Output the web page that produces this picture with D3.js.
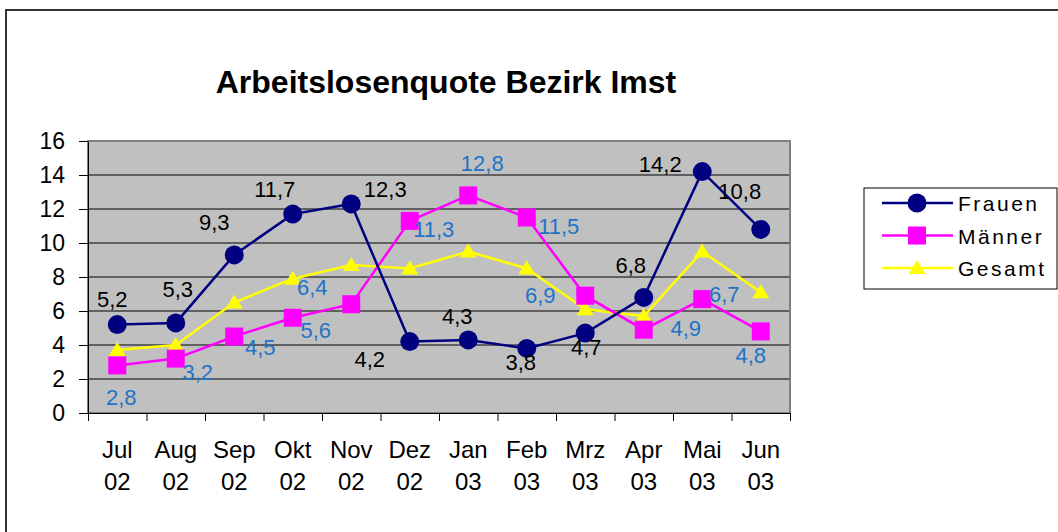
<!DOCTYPE html>
<html>
<head>
<meta charset="utf-8">
<script src="https://cdn.jsdelivr.net/npm/d3@7"></script>
<style>
    body { margin: 0; background: #fff; }
    svg { display: block; }
</style>
</head>
<body>
<div id="chart"></div>
<script>
var months = ['Jul', 'Aug', 'Sep', 'Okt', 'Nov', 'Dez', 'Jan', 'Feb', 'Mrz', 'Apr', 'Mai', 'Jun'];
var years = ['02', '02', '02', '02', '02', '02', '03', '03', '03', '03', '03', '03'];
var frauen = [5.2, 5.3, 9.3, 11.7, 12.3, 4.2, 4.3, 3.8, 4.7, 6.8, 14.2, 10.8];
var maenner = [2.8, 3.2, 4.5, 5.6, 6.4, 11.3, 12.8, 11.5, 6.9, 4.9, 6.7, 4.8];
var gesamt = [3.7, 4.0, 6.5, 7.9, 8.7, 8.5, 9.5, 8.5, 6.1, 5.7, 9.5, 7.1];
var yTicks = [0, 2, 4, 6, 8, 10, 12, 14, 16];

// hand-placed label offsets (dx, dy from the point), like the original
var frauenLabelOffsets = [[-5, -18], [2, -26], [-20, -25], [-18, -17], [34, -7], [-40, 25],
    [-11, -16], [-6, 22], [1, 22], [-13, -24], [-42, 0], [-21, -30]];
var maennerLabelOffsets = [[4, 40], [22, 21], [26, 18], [23, 20], [-39, -9], [24, 16],
    [14, -24], [32, 16], [-45, 7], [42, 6], [22, 3], [-10, 32]];

var width = 1058, height = 532;
var font = 'Arial, "Liberation Sans", sans-serif';
var plot = { left: 88, top: 141, right: 790, bottom: 413 };

var svg = d3.select('#chart').append('svg')
    .attr('width', width)
    .attr('height', height);

// outer chart border
svg.append('rect')
    .attr('x', 6).attr('y', 10)
    .attr('width', 1100).attr('height', 600)
    .attr('fill', '#fff')
    .attr('stroke', '#333')
    .attr('stroke-width', 2);

svg.append('text')
    .attr('x', 446).attr('y', 93)
    .attr('text-anchor', 'middle')
    .style('font-family', font)
    .style('font-size', '32px')
    .style('font-weight', 'bold')
    .text('Arbeitslosenquote Bezirk Imst');

var x = d3.scaleBand().domain(d3.range(months.length)).range([plot.left, plot.right]);
var xEdge = d3.scaleLinear().domain([0, months.length]).range([plot.left, plot.right]);
var y = d3.scaleLinear().domain([0, 16]).range([plot.bottom, plot.top]);

function cx(i) { return x(i) + x.bandwidth() / 2; }

// plot background
svg.append('rect')
    .attr('x', plot.left).attr('y', plot.top)
    .attr('width', plot.right - plot.left)
    .attr('height', plot.bottom - plot.top)
    .attr('fill', '#c0c0c0');

svg.append('g').selectAll('line')
    .data(yTicks.filter(function(d) { return d > 0 && d < 16; }))
    .join('line')
    .attr('x1', plot.left).attr('x2', plot.right)
    .attr('y1', function(d) { return y(d); })
    .attr('y2', function(d) { return y(d); })
    .attr('stroke', '#000')
    .attr('stroke-width', 1);

svg.append('rect')
    .attr('x', plot.left).attr('y', plot.top)
    .attr('width', plot.right - plot.left)
    .attr('height', plot.bottom - plot.top)
    .attr('fill', 'none')
    .attr('stroke', '#808080')
    .attr('stroke-width', 2);

// y axis
var yAxis = svg.append('g')
    .attr('transform', 'translate(' + plot.left + ',0)')
    .call(d3.axisLeft(y).tickValues(yTicks).tickSize(9).tickPadding(14).tickSizeOuter(0));
yAxis.selectAll('text')
    .style('font-family', font)
    .style('font-size', '23px')
    .attr('fill', '#000');
yAxis.selectAll('line, path').attr('stroke', '#000');

// x axis, ticks between the categories
var xAxis = svg.append('g')
    .attr('transform', 'translate(0,' + plot.bottom + ')')
    .call(d3.axisBottom(xEdge).tickValues(d3.range(months.length + 1)).tickSize(8)
        .tickSizeOuter(0).tickFormat(''));
xAxis.selectAll('line, path').attr('stroke', '#000');

var labels = svg.append('g')
    .style('font-family', font)
    .style('font-size', '24px')
    .attr('text-anchor', 'middle');
labels.selectAll('text.m')
    .data(months)
    .join('text')
    .attr('class', 'm')
    .attr('x', function(d, i) { return cx(i); })
    .attr('y', 458)
    .text(function(d) { return d; });
labels.selectAll('text.yr')
    .data(years)
    .join('text')
    .attr('class', 'yr')
    .attr('x', function(d, i) { return cx(i); })
    .attr('y', 490)
    .text(function(d) { return d; });

var line = d3.line()
    .x(function(d, i) { return cx(i); })
    .y(function(d) { return y(d); });

var series = [
    { name: 'Frauen', values: frauen, color: '#000080', marker: 'circle' },
    { name: 'Männer', values: maenner, color: '#ff00ff', marker: 'square' },
    { name: 'Gesamt', values: gesamt, color: '#ffff00', marker: 'triangle' }
];

function drawMarker(g, type, color) {
    if (type === 'circle') {
        g.append('circle').attr('r', 9.5).attr('fill', color);
    } else if (type === 'square') {
        g.append('rect').attr('x', -9).attr('y', -9).attr('width', 18).attr('height', 18)
            .attr('fill', color);
    } else {
        g.append('path').attr('d', 'M0,-8L8.5,6L-8.5,6Z').attr('fill', color);
    }
}

// draw in reverse so Frauen ends up on top
series.slice().reverse().forEach(function(s) {
    svg.append('path')
        .attr('d', line(s.values))
        .attr('fill', 'none')
        .attr('stroke', s.color)
        .attr('stroke-width', 2.5);
    s.values.forEach(function(v, i) {
        var g = svg.append('g').attr('transform', 'translate(' + cx(i) + ',' + y(v) + ')');
        drawMarker(g, s.marker, s.color);
    });
});

function fmt(v) { return d3.format('.1f')(v).replace('.', ','); }

function drawValueLabels(values, offsets, color) {
    svg.append('g')
        .style('font-family', font)
        .style('font-size', '22px')
        .attr('text-anchor', 'middle')
        .attr('fill', color)
        .selectAll('text')
        .data(values)
        .join('text')
        .attr('x', function(d, i) { return cx(i) + offsets[i][0]; })
        .attr('y', function(d, i) { return y(d) + offsets[i][1]; })
        .text(fmt);
}
drawValueLabels(frauen, frauenLabelOffsets, '#000');
drawValueLabels(maenner, maennerLabelOffsets, '#1e73c8');

// legend
var legend = svg.append('g');
legend.append('rect')
    .attr('x', 864).attr('y', 188)
    .attr('width', 193).attr('height', 101)
    .attr('fill', '#fff')
    .attr('stroke', '#000')
    .attr('stroke-width', 1);
series.forEach(function(s, i) {
    var rowY = 203 + i * 32.5;
    legend.append('line')
        .attr('x1', 882).attr('x2', 953)
        .attr('y1', rowY).attr('y2', rowY)
        .attr('stroke', s.color)
        .attr('stroke-width', 2.5);
    var g = legend.append('g').attr('transform', 'translate(917,' + rowY + ')');
    drawMarker(g, s.marker, s.color);
    legend.append('text')
        .attr('x', 958).attr('y', rowY + 8)
        .style('font-family', font)
        .style('font-size', '21px')
        .style('letter-spacing', '2.5px')
        .text(s.name);
});
</script>
</body>
</html>
